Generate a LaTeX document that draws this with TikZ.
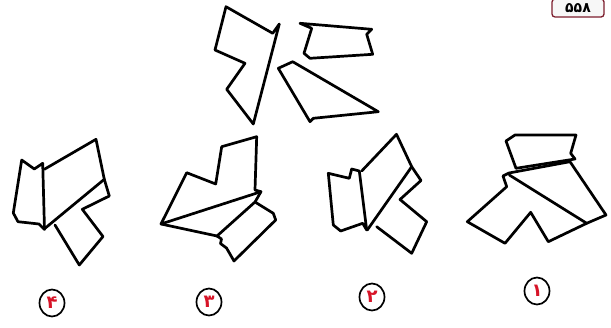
\documentclass[tikz,border=0pt]{standalone}
\usepackage{fontspec}
\newfontfamily\arabicfont[Script=Arabic]{DejaVu Sans}
\definecolor{numred}{RGB}{215,20,40}
\definecolor{boxred}{RGB}{125,30,45}
\tikzset{
  piece/.style={draw=black, line width=2.7pt, line join=round, line cap=round},
  numcircle/.style={ellipse, draw=black, line width=1.7pt, fill=white, minimum width=25pt, minimum height=27pt, inner sep=0pt, text=numred, font=\arabicfont\bfseries\fontsize{18}{18}\selectfont},
  pagebox/.style={rounded corners=3pt, draw=boxred, line width=1.3pt, fill=gray!6, minimum width=52pt, minimum height=18pt, inner sep=1pt, font=\arabicfont\bfseries\fontsize{14}{14}\selectfont}
}
\usetikzlibrary{shapes.geometric}
\begin{document}
\begin{tikzpicture}[x=1pt,y=-1pt]
\useasboundingbox (0,0) rectangle (611,327);
\fill[white] (0,0) rectangle (611,327);

% ---- page number
\node[pagebox] (page) at (578,8) {۵۵۸};

% ---- top: three pieces
\draw[piece] (226,6.7) -- (272.7,33.3) -- (279.3,24) -- (253.3,124) -- (226.7,89.3) -- (245,63.3) -- (215,50) -- cycle;
\draw[piece] (300,23.3) -- (371.7,29.3) -- (366.7,34.3) -- (372.7,54.3) -- (310,58.3) -- (304,53.3) -- (311.7,28.3) -- cycle;
\draw[piece] (278.3,68.3) -- (292.7,61.7) -- (378.3,111.7) -- (313.3,118.3) -- (310,121.7) -- cycle;

% ---- option 4
\draw[piece] (21.7,160) -- (34.3,169) -- (42.7,163.3) -- (44.5,229.5) -- (39,224) -- (18,221.7) -- (13.3,213) -- cycle;
\draw[piece] (44.3,169.3) -- (96,139.3) -- (104.3,179.3) -- (45,228.3);
\draw[piece] (104.3,179.3) -- (109.3,196) -- (82.3,209.3) -- (103,236.5) -- (79.3,265) -- (55,225);

% ---- option 3
\draw[piece] (161,224) -- (186.7,172.7) -- (215.7,184) -- (221.7,146.7) -- (256.7,136.7) -- (255,190) -- (261,191.7) -- cycle;
\draw[piece] (161,224) -- (217,236) -- (255,202) -- (261,191.7);
\draw[piece] (255,202) -- (273.3,213.3) -- (275.7,220) -- (234,261) -- (226.5,248) -- (220.5,243.5) -- (221.5,239) -- (217,236);

% ---- option 2
\draw[piece] (328.3,173.3) -- (349.3,178.3) -- (351.7,169) -- (359.3,171) -- (366.7,230) -- (362.7,223.3) -- (340.7,231) -- (333.3,225) -- cycle;
\draw[piece] (361.7,171) -- (396.5,134.3) -- (411.7,166.7) -- (367.3,230);
\draw[piece] (411.7,166.7) -- (421,180.5) -- (400,199.5) -- (426.7,221.7) -- (411.7,253.3) -- (376.7,226.7);

% ---- option 1
\draw[piece] (506,141) -- (515,135) -- (576,135) -- (570.7,153.3) -- (575,159) -- (516,168.3) -- cycle;
\draw[piece] (509,173) -- (570,161.7) -- (606,215) -- (586.7,223.3) -- (548.3,241.7) -- (530.7,212.3) -- (505,243.3) -- (467.3,221.7) -- (506.7,186.7) -- (503,176) -- cycle;
\draw[piece] (509.3,175) -- (586.7,223.3);

% ---- answer labels
\node[numcircle] (n4) at (52,303) {۴};
\node[numcircle] (n3) at (209,302) {۳};
\node[numcircle] (n2) at (372,297) {۲};
\node[numcircle] (n1) at (537,291) {۱};
\end{tikzpicture}
\end{document}
